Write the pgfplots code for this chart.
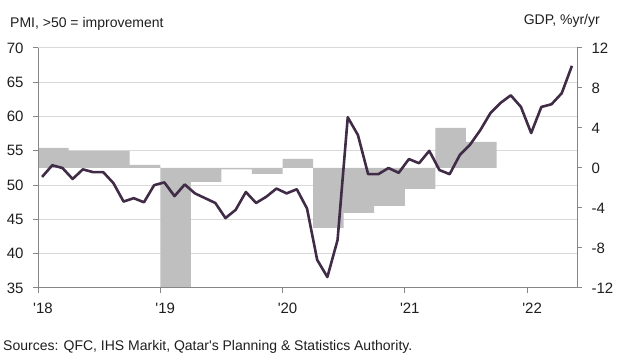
\documentclass[border=0pt]{standalone}
\usepackage{fontspec}
\setmainfont{Liberation Sans}
\usepackage{pgfplots}
\pgfplotsset{compat=1.18}
\definecolor{barc}{RGB}{191,191,191}
\definecolor{linec}{RGB}{64,44,70}
\definecolor{gridc}{RGB}{217,217,217}
\definecolor{axc}{RGB}{134,134,134}
\definecolor{txt}{RGB}{30,30,30}
\begin{document}
\begin{tikzpicture}
\path[use as bounding box] (0,0) rectangle (620pt,355pt);
\pgfplotsset{common/.style={scale only axis, width=539pt, height=240pt,
  at={(38pt,67pt)}, anchor=south west, xmin=0, xmax=52.9, clip=true,
  /pgf/number format/assume math mode=true,
  tick label style={font=\fontsize{15}{18}\selectfont, text=txt}}}
% grid
\begin{axis}[common, ymin=35, ymax=70, ytick={35,40,...,70}, ymajorgrids,
  grid style={gridc, line width=1pt}, axis line style={draw=none},
  xtick=\empty, yticklabels={}, major tick length=0pt]
\addplot[draw=none] coordinates {(1,50)};
\end{axis}
% GDP bars
\begin{axis}[common, ymin=-12, ymax=12, axis x line=none, axis y line*=right,
  ytick={-12,-8,-4,0,4,8,12}, yticklabels={-12,-8,-4,0,4,8,12},
  axis line style={axc, line width=1pt}, tick style={axc, line width=1pt},
  tick align=outside, major tick length=5pt,
  yticklabel style={anchor=west, xshift=6pt}]
\addplot[ybar, bar width=3, fill=barc, draw=none] coordinates {
(1.5,2.0) (4.5,1.7) (7.5,1.7) (10.5,0.3)
(13.5,-12.5) (16.5,-1.4) (19.5,-0.15) (22.5,-0.6)
(25.5,0.9) (28.5,-6.0) (31.5,-4.5) (34.5,-3.8)
(37.5,-2.1) (40.5,4.0) (43.5,2.6)
};
\end{axis}
% PMI line
\begin{axis}[common, ymin=35, ymax=70, axis x line*=bottom, axis y line*=left,
  ytick={35,40,...,70}, yticklabels={35,40,45,50,55,60,65,70},
  yticklabel style={xshift=-6pt},
  xtick={0,12,24,36,48},
  xticklabels={\textquotesingle18,\textquotesingle19,\textquotesingle20,\textquotesingle21,\textquotesingle22},
  xticklabel style={xshift=5pt, yshift=-6pt},
  axis line style={axc, line width=1pt}, tick style={axc, line width=1pt},
  tick align=outside, major tick length=5pt]
\addplot[linec, line width=2.6pt, line join=round] coordinates {
(0.4,51.2) (1.4,52.9) (2.4,52.5) (3.4,50.9) (4.4,52.3) (5.4,51.9)
(6.4,51.9) (7.4,50.3) (8.4,47.6) (9.4,48.1) (10.4,47.5) (11.4,50.0)
(12.4,50.4) (13.4,48.4) (14.4,50.1) (15.4,48.8) (16.4,48.1) (17.4,47.4)
(18.4,45.2) (19.4,46.4) (20.4,49.0) (21.4,47.4) (22.4,48.3) (23.4,49.5)
(24.4,48.8) (25.4,49.4) (26.4,46.6) (27.4,39.1) (28.4,36.6) (29.4,42.0)
(30.4,59.9) (31.4,57.3) (32.4,51.6) (33.4,51.6) (34.4,52.5) (35.4,51.8)
(36.4,53.8) (37.4,53.2) (38.4,55.0) (39.4,52.2) (40.4,51.6) (41.4,54.4)
(42.4,55.9) (43.4,58.0) (44.4,60.5) (45.4,62.0) (46.4,63.1) (47.4,61.4)
(48.4,57.6) (49.4,61.4) (50.4,61.8) (51.4,63.4) (52.4,67.4)
};
\end{axis}
\node[anchor=base west, inner sep=0pt, text=txt, font=\fontsize{14}{16}\selectfont] at (10pt,327.7pt) {PMI, >50 = improvement};
\node[anchor=base east, inner sep=0pt, text=txt, font=\fontsize{14}{16}\selectfont] at (600pt,330pt) {GDP, \%yr/yr};
\node[anchor=base west, inner sep=0pt, text=txt, font=\fontsize{14}{16}\selectfont] at (3pt,4pt) {Sources: QFC, IHS Markit, Qatar\textquotesingle s Planning \& Statistics Authority.};
\end{tikzpicture}
\end{document}
